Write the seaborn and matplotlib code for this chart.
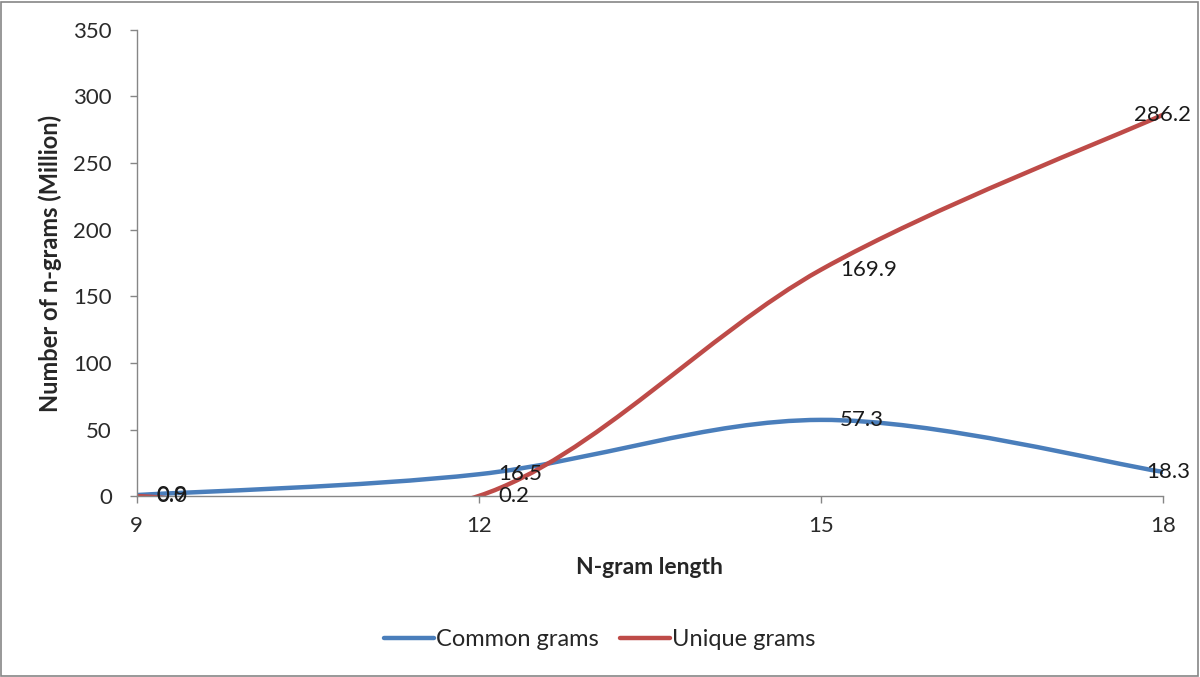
import numpy as np
import matplotlib
matplotlib.use("Agg")
import matplotlib.pyplot as plt
import seaborn as sns
from matplotlib.path import Path
from matplotlib.patches import PathPatch, Rectangle
from matplotlib.lines import Line2D

ngram_length = [9, 12, 15, 18]
common_grams = [0.9, 16.5, 57.3, 18.3]
unique_grams = [0.0, 0.2, 169.9, 286.2]
common_labels = ["0.9", "16.5", "57.3", "18.3"]
unique_labels = ["0.0", "0.2", "169.9", "286.2"]

BLUE = "#4A7EBB"
RED = "#BE4B48"
GRAY = "#868686"


def smooth_path(xs, ys):
    # Excel-style smoothed line: cubic Bezier segments, Catmull-Rom control points
    pts = np.column_stack([xs, ys]).astype(float)
    ext = np.vstack([pts[0], pts, pts[-1]])
    verts = [tuple(pts[0])]
    codes = [Path.MOVETO]
    for i in range(len(pts) - 1):
        p0, p1, p2, p3 = ext[i], ext[i + 1], ext[i + 2], ext[i + 3]
        c1 = p1 + (p2 - p0) / 6.0
        c2 = p2 - (p3 - p1) / 6.0
        verts += [tuple(c1), tuple(c2), tuple(p2)]
        codes += [Path.CURVE4] * 3
    return Path(verts, codes)


sns.set_theme(style="white")
plt.rcParams["font.family"] = ["Lato", "DejaVu Sans"]

fig = plt.figure(figsize=(12, 6.77), dpi=100)
ax = fig.add_axes([0.114, 0.267, 0.855, 0.689])

for ys, col in [(common_grams, BLUE), (unique_grams, RED)]:
    patch = PathPatch(smooth_path(ngram_length, ys), facecolor="none",
                      edgecolor=col, lw=3.2, capstyle="round", joinstyle="round")
    ax.add_patch(patch)

# data labels, right of each point
for lbls, ys in [(common_labels, common_grams), (unique_labels, unique_grams)]:
    for x, y, t in zip(ngram_length, ys, lbls):
        if x == ngram_length[-1]:
            ax.annotate(t, (x, y), xytext=(20, 0), textcoords="offset points",
                        ha="right", va="center", fontsize=16, color="#1a1a1a",
                        annotation_clip=False)
        else:
            ax.annotate(t, (x, y), xytext=(14, 0), textcoords="offset points",
                        ha="left", va="center", fontsize=16, color="#1a1a1a",
                        annotation_clip=False)

ax.set_xlim(9, 18)
ax.set_ylim(0, 350)
ax.set_xticks(ngram_length)
ax.set_yticks(range(0, 351, 50))
ax.tick_params(axis="both", labelsize=16, colors="#2a2a2a", length=5,
               width=1, direction="out", color=GRAY,
               bottom=True, left=True)
ax.tick_params(axis="x", pad=9)
ax.tick_params(axis="y", pad=13)
sns.despine(ax=ax)
for s in ["left", "bottom"]:
    ax.spines[s].set_color(GRAY)
    ax.spines[s].set_linewidth(1)

ax.set_xlabel("N-gram length", fontsize=16.5, fontweight="bold", labelpad=15)
ax.set_ylabel("Number of n-grams (Million)", fontsize=17, fontweight="bold", labelpad=8)

handles = [Line2D([], [], color=BLUE, lw=3.2), Line2D([], [], color=RED, lw=3.2)]
fig.legend(handles, ["Common grams", "Unique grams"], loc="center",
           bbox_to_anchor=(0.5, 0.055), ncol=2, frameon=False, fontsize=17,
           handlelength=2.1, handletextpad=0.1, columnspacing=0.9)

fig.patches.append(Rectangle((0.001, 0.002), 0.997, 0.995, transform=fig.transFigure,
                             fill=False, edgecolor=GRAY, lw=1.2))

fig.savefig("out.png", dpi=100)
